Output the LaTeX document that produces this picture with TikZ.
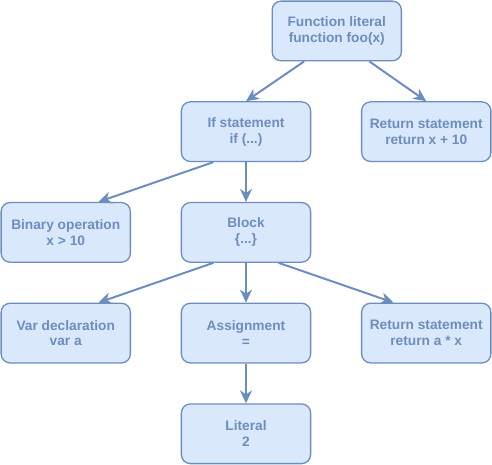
\documentclass[tikz,border=0pt]{standalone}
\usepackage{fontspec}
\setmainfont{Liberation Sans}
\usetikzlibrary{arrows.meta, positioning, calc}

\definecolor{astfill}{HTML}{DAE8FC}
\definecolor{astline}{HTML}{6C8EBF}

\begin{document}
\begin{tikzpicture}[
    x=1pt, y=1pt,
    node distance=40pt and 50pt,
    astnode/.style={rectangle, draw=astline, fill=astfill, line width=1.3pt, rounded corners=9pt, text=astline, align=center, minimum width=130pt, minimum height=60pt, inner sep=0pt, font=\fontsize{13.8}{16}\selectfont\bfseries},
    link/.style={-{Stealth[length=13pt, width=12pt, inset=4pt]}, line width=2pt, draw=astline}
  ]

    % Upper levels
    \node[astnode] (ifst) {If statement\\if (...)};
    \node[astnode, right=of ifst] (retx) {Return statement\\return x + 10};
    \node[astnode, above right=40pt and -40pt of ifst] (func) {Function literal\\function foo(x)};

    % Block level
    \node[astnode, below=of ifst] (block) {Block\\\{...\}};
    \node[astnode, left=of block] (binop) {Binary operation\\x > 10};

    % Statements in the block
    \node[astnode, below=of block] (assign) {Assignment\\=};
    \node[astnode, left=of assign] (vardecl) {Var declaration\\var a};
    \node[astnode, right=of assign] (retax) {Return statement\\return a * x};
    \node[astnode, below=of assign] (lit) {Literal\\2};

    % Connections
    \draw[link] ($(func.south west)!0.25!(func.south east)$) -- (ifst.north);
    \draw[link] ($(func.south west)!0.75!(func.south east)$) -- (retx.north);
    \draw[link] ($(ifst.south west)!0.25!(ifst.south east)$) -- ($(binop.north west)!0.75!(binop.north east)$);
    \draw[link] (ifst) -- (block);
    \draw[link] ($(block.south west)!0.25!(block.south east)$) -- ($(vardecl.north west)!0.75!(vardecl.north east)$);
    \draw[link] (block) -- (assign);
    \draw[link] ($(block.south west)!0.75!(block.south east)$) -- ($(retax.north west)!0.25!(retax.north east)$);
    \draw[link] (assign) -- (lit);

    \useasboundingbox ($(vardecl.west |- lit.south)+(-0.5,-0.5)$) rectangle ($(retax.east |- func.north)+(0.5,0.5)$);

  \end{tikzpicture}
\end{document}
